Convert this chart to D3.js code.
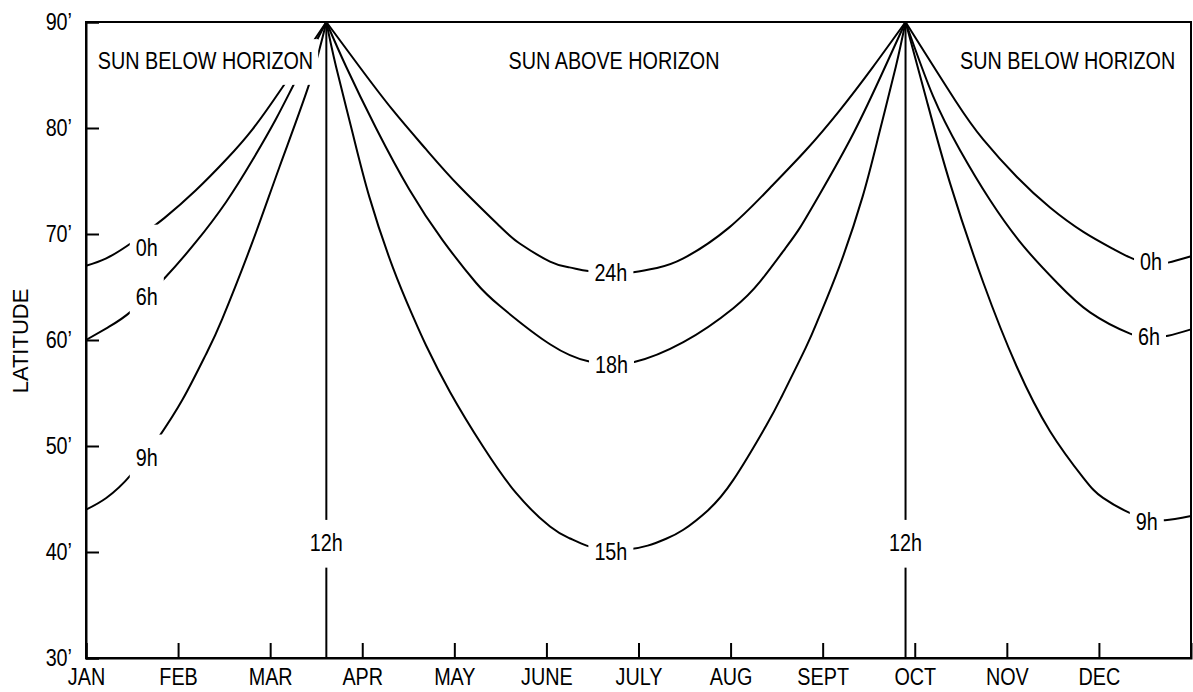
<!DOCTYPE html>
<html>
<head>
<meta charset="utf-8">
<script src="https://cdnjs.cloudflare.com/ajax/libs/d3/7.8.5/d3.min.js"></script>
<style>
body { margin: 0; background: #fff; }
.chart text { font-family: "Liberation Sans", Arial, Helvetica, sans-serif; fill: #000; }
.curve { fill: none; stroke: #000; stroke-width: 2; }
.noon { stroke: #000; stroke-width: 2; }
.axis path, .axis line { stroke: #000; stroke-width: 2; }
.frame { fill: none; stroke: #000; stroke-width: 2; }
</style>
</head>
<body>
<div class="chart"></div>
<script>
// month index 0..12 (Jan 1 .. Dec 31), latitude in degrees
var months = ["JAN", "FEB", "MAR", "APR", "MAY", "JUNE", "JULY", "AUG", "SEPT", "OCT", "NOV", "DEC"];
var latTicks = [30, 40, 50, 60, 70, 80, 90];
var equinox = [2.61, 8.9];

// winter, start of year (sun below horizon)
var jan0h = [[0,67.0],[0.22,67.7],[0.5,69.2],[0.85,71.5],[1.19,74.1],[1.52,77.0],[1.81,79.9],[2.13,83.8],[2.61,90]];
var jan6h = [[0,60.0],[0.24,61.2],[0.49,62.7],[0.85,65.8],[1.19,69.2],[1.52,73.0],[1.81,77.0],[2.06,80.8],[2.28,84.5],[2.61,90]];
var jan9h = [[0,44.0],[0.22,45.1],[0.49,47.3],[0.78,50.7],[1.05,54.4],[1.30,58.6],[1.48,62.0],[1.81,69.3],[2.10,76.3],[2.43,84.3],[2.61,90]];

// summer (sun above horizon)
var sum24h = [[2.61,90],[2.968,85.8],[3.33,81.7],[3.692,78.0],[4.054,74.5],[4.496,70.7],[4.71,69.1],[5.039,67.4],[5.25,66.85],[5.455,66.5],[5.72,66.3],
  [5.944,66.4],[6.2,66.8],[6.487,67.7],[6.983,70.6],[7.456,74.6],[7.817,77.9],[8.179,81.6],[8.541,85.7],[8.9,90]];
var sum18h = [[2.61,90],[2.824,85.8],[3.149,80.0],[3.511,74.2],[3.874,69.4],[4.235,65.4],[4.496,63.2],[5.039,59.6],[5.455,58.0],[5.70,57.8],
  [5.944,57.9],[6.487,59.8],[7.03,63.0],[7.32,65.5],[7.591,68.6],[7.754,70.6],[7.971,73.8],[8.34,79.6],[8.68,85.8],[8.9,90]];
var sum15h = [[2.61,90],[2.715,85.8],[2.896,79.5],[3.077,73.5],[3.33,66.9],[3.547,62.3],[3.692,59.5],[3.953,55.1],[4.315,49.9],[4.677,45.5],
  [5.039,42.4],[5.25,41.3],[5.437,40.6],[5.6,40.25],[5.75,40.15],[5.9,40.25],[6.1,40.6],[6.3,41.25],[6.487,42.1],[6.75,43.9],[7.03,46.8],
  [7.392,52.0],[7.557,54.7],[7.818,59.3],[7.963,62.2],[8.18,66.9],[8.433,73.5],[8.614,79.5],[8.795,85.8],[8.9,90]];

// winter, end of year
var dec0h = [[8.9,90],[9.44,82.6],[9.745,78.9],[10.107,75.4],[10.469,72.5],[10.831,70.2],[11.153,68.6],[11.36,67.7],[11.56,67.2],[11.75,67.3],[12,67.9]];
var dec6h = [[8.9,90],[9.199,83.0],[9.492,77.9],[9.817,73.2],[10.176,68.9],[10.545,65.4],[10.904,62.6],[11.338,60.6],[11.55,60.2],[11.75,60.4],[12,61.0]];
var dec9h = [[8.9,90],[9.13,82.6],[9.383,74.8],[9.745,65.4],[10.107,57.5],[10.469,51.4],[10.831,47.0],[11.045,45.1],[11.357,43.6],[11.55,43.1],[11.718,43.0],[12,43.4]];

var curveLabels = [
  {text: "0h", m: 0.66, lat: 68.7}, {text: "6h", m: 0.66, lat: 64.1}, {text: "9h", m: 0.66, lat: 48.9},
  {text: "12h", m: 2.61, lat: 40.85}, {text: "12h", m: 8.9, lat: 40.85},
  {text: "24h", m: 5.70, lat: 66.3}, {text: "18h", m: 5.707, lat: 57.7}, {text: "15h", m: 5.70, lat: 40.0},
  {text: "0h", m: 11.566, lat: 67.4}, {text: "6h", m: 11.544, lat: 60.3}, {text: "9h", m: 11.52, lat: 42.9}
];
var regionLabels = [
  {text: "SUN BELOW HORIZON", m: 1.298, lat: 86.3},
  {text: "SUN ABOVE HORIZON", m: 5.734, lat: 86.3},
  {text: "SUN BELOW HORIZON", m: 10.66, lat: 86.3}
];

var width = 1193;
var height = 692;
var margin = {left: 86, top: 22, right: 2, bottom: 34};
var narrow = 0.86;   // the original lettering is a condensed face
var x = d3.scaleLinear().domain([0, 12]).range([margin.left, width - margin.right]);
var y = d3.scaleLinear().domain([30, 90]).range([height - margin.bottom, margin.top]);

function build_svg( c ){
    return c.append("svg").attr("width", width).attr("height", height);
}

// squeeze text horizontally about its anchor
function condense( sel ){
    sel.attr("transform", function(){
        var cx = +this.getAttribute("x") || 0;
        return "translate(" + cx + ",0) scale(" + narrow + ",1) translate(" + (-cx) + ",0)";
    });
}

function build_curves( s ){
    var line = d3.line()
        .x(function(d){ return x(d[0]); })
        .y(function(d){ return y(d[1]); })
        .curve(d3.curveNatural);
    var series = [jan0h, jan6h, jan9h, sum24h, sum18h, sum15h, dec0h, dec6h, dec9h];
    var g = s.append("g");
    g.selectAll(".curve")
        .data(series)
        .enter().append("path")
        .attr("class", "curve")
        .attr("d", line);
    g.selectAll(".noon")
        .data(equinox)
        .enter().append("line")
        .attr("class", "noon")
        .attr("x1", function(d){ return x(d); })
        .attr("x2", function(d){ return x(d); })
        .attr("y1", y(30))
        .attr("y2", y(90));
}

// text with a white box behind it, which cuts the curve where the label sits
function build_labels( s, data, size, padX, padY ){
    var g = s.append("g");
    data.forEach(function(d){
        var cx = x(d.m);
        var t = g.append("text")
            .attr("x", cx)
            .attr("y", y(d.lat))
            .attr("dy", "0.36em")
            .attr("text-anchor", "middle")
            .style("font-size", size + "px")
            .text(d.text);
        condense(t);
        var b = t.node().getBBox();
        var w = b.width * narrow;
        g.insert("rect", function(){ return t.node(); })
            .attr("x", cx - w / 2 - padX)
            .attr("y", b.y - padY)
            .attr("width", w + 2 * padX)
            .attr("height", b.height + 2 * padY)
            .attr("fill", "#fff");
    });
}

function build_axis( s ){
    var yAxis = d3.axisLeft(y)
        .tickValues(latTicks)
        .tickSize(-13)
        .tickPadding(14)
        .tickFormat(function(d){ return d + "\u2019"; });
    var xAxis = d3.axisBottom(x)
        .tickValues(d3.range(months.length))
        .tickSize(-15)
        .tickPadding(11)
        .tickFormat(function(d){ return months[d]; });

    s.append("rect")
        .attr("class", "frame")
        .attr("x", x(0)).attr("y", y(90))
        .attr("width", x(12) - x(0))
        .attr("height", y(30) - y(90));

    var gy = s.append("g").attr("class", "axis")
        .attr("transform", "translate(" + x(0) + ",0)")
        .call(yAxis);
    gy.selectAll("text").style("font-size", "23px").call(condense);

    var gx = s.append("g").attr("class", "axis")
        .attr("transform", "translate(0," + y(30) + ")")
        .call(xAxis);
    gx.selectAll("text").style("font-size", "23px").call(condense);

    s.append("text")
        .attr("transform", "translate(28," + 341 + ") rotate(-90)")
        .attr("text-anchor", "middle")
        .style("font-size", "22px")
        .text("LATITUDE");
}

function main(){
    var container = d3.select(".chart");
    var svg = build_svg(container);
    build_curves(svg);
    build_labels(svg, curveLabels, 23, 6, 11);
    build_labels(svg, regionLabels, 23, 5, 10);
    build_axis(svg);
}

main();
</script>
</body>
</html>
